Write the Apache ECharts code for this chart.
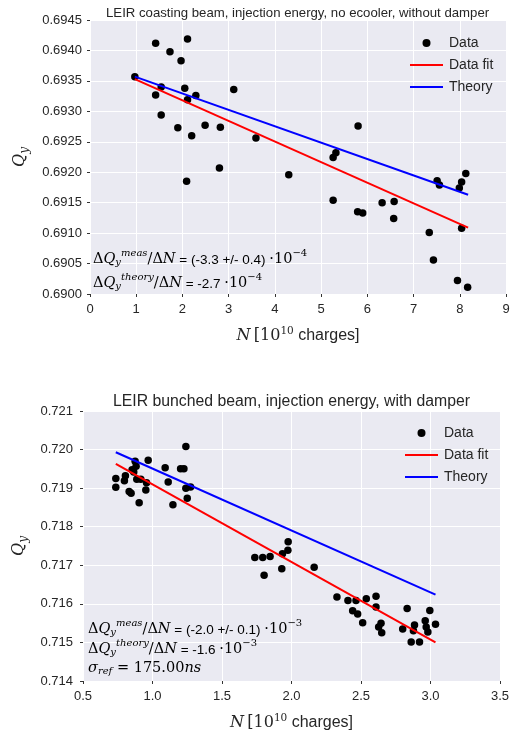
<!DOCTYPE html>
<html lang="en">
<head>
<meta charset="utf-8">
<script src="https://cdn.jsdelivr.net/npm/echarts@6/dist/echarts.min.js"></script>
<style>
  html, body { margin: 0; padding: 0; background: #fff; }
</style>
</head>
<body>
<div id="main" style="width:516px;height:734px"></div>
<script type="text/javascript">
// top panel: coasting beam
var coastN = [0.97, 1.42, 1.73, 1.97, 2.11, 1.54, 1.42, 2.05, 2.11, 2.29, 1.54, 1.90, 2.20, 2.49, 2.82, 3.11, 3.59,
  2.80, 4.30, 5.26, 5.32, 5.80, 8.13, 2.09, 5.26, 5.79, 5.90, 6.32, 6.58, 6.57, 7.51, 7.56, 7.99, 8.04, 7.34, 8.04,
  7.43, 7.95, 8.17];
var coastQ = [0.69357, 0.69412, 0.69398, 0.69383, 0.69419, 0.69340, 0.69327, 0.69338, 0.69319, 0.69326, 0.69294,
  0.69273, 0.69260, 0.69277, 0.69274, 0.69336, 0.69256, 0.69207, 0.69196, 0.69224, 0.69232, 0.69276, 0.69198,
  0.69185, 0.69154, 0.69135, 0.69133, 0.69150, 0.69152, 0.69124, 0.69186, 0.69179, 0.69174, 0.69184, 0.69101,
  0.69108, 0.69056, 0.69022, 0.69011];
var coastFitN = [0.97, 8.18];
var coastFitQ = [0.69353, 0.69109];
var coastTheoryN = [0.97, 8.18];
var coastTheoryQ = [0.69357, 0.69163];

// bottom panel: bunched beam
var bunchN = [0.736, 0.736, 0.798, 0.805, 0.832, 0.846, 0.853, 0.875, 0.882, 0.887, 0.904, 0.916, 0.952, 0.957,
  0.969, 1.091, 1.113, 1.147, 1.202, 1.226, 1.240, 1.240, 1.250, 1.274, 0.865,
  1.736, 1.793, 1.846, 1.803, 1.930, 1.935, 1.974, 1.976, 2.163, 2.327, 2.406, 2.464, 2.440, 2.476, 2.512, 2.538,
  2.608, 2.608, 2.627, 2.644, 2.649, 2.800, 2.832, 2.861, 2.877, 2.885, 2.921, 2.962, 2.969, 2.981, 2.995, 3.036];
var bunchQ = [0.71925, 0.71902, 0.71919, 0.71932, 0.71891, 0.71887, 0.71948, 0.71970, 0.71957, 0.71923, 0.71862,
  0.71923, 0.71895, 0.71914, 0.71972, 0.71953, 0.71916, 0.71857, 0.71950, 0.71950, 0.72008, 0.71900, 0.71874,
  0.71903, 0.71942,
  0.71720, 0.71720, 0.71723, 0.71674, 0.71691, 0.71730, 0.71739, 0.71761, 0.71695, 0.71618, 0.71609, 0.71609,
  0.71582, 0.71574, 0.71551, 0.71613, 0.71620, 0.71592, 0.71540, 0.71550, 0.71525, 0.71535, 0.71588, 0.71501,
  0.71530, 0.71545, 0.71501, 0.71556, 0.71540, 0.71527, 0.71583, 0.71547];
var bunchFitN = [0.736, 3.036];
var bunchFitQ = [0.71963, 0.71500];
var bunchTheoryN = [0.736, 3.036];
var bunchTheoryQ = [0.71993, 0.71624];

var legendNames = ['Data', 'Data fit', 'Theory'];

function pairs(xs, ys) {
  var out = [];
  for (var i = 0; i < xs.length; i++) out.push([xs[i], ys[i]]);
  return out;
}

var sans = 'Liberation Sans, Arial, sans-serif';
var serif = 'DejaVu Serif, serif';
var txt = '#262626';

var mathRich = {
  m: { fontFamily: serif, fontStyle: 'italic', fontSize: 14.5, color: txt, lineHeight: 19, verticalAlign: 'bottom' },
  d: { fontFamily: serif, fontSize: 14.5, color: txt, lineHeight: 19, verticalAlign: 'bottom' },
  sub: { fontFamily: serif, fontStyle: 'italic', fontSize: 10, color: txt, lineHeight: 19, verticalAlign: 'bottom' },
  sup: { fontFamily: serif, fontStyle: 'italic', fontSize: 10, color: txt, lineHeight: 19, verticalAlign: 'top' },
  supn: { fontFamily: serif, fontSize: 10, color: txt, lineHeight: 19, verticalAlign: 'top' },
  s: { fontFamily: sans, fontSize: 13.5, color: txt, lineHeight: 19, verticalAlign: 'bottom' }
};

var axisNameRich = {
  m: { fontFamily: serif, fontStyle: 'italic', fontSize: 16, color: txt },
  d: { fontFamily: serif, fontSize: 16, color: txt },
  sup: { fontFamily: serif, fontSize: 10.5, color: txt, verticalAlign: 'top', padding: [0, 0, 8, 0] },
  sub: { fontFamily: serif, fontStyle: 'italic', fontSize: 12, color: txt, padding: [10, 0, 0, 0] },
  s: { fontFamily: sans, fontSize: 16, color: txt }
};

function xAxisCfg(idx, min, max, interval, digits) {
  return {
    type: 'value', gridIndex: idx, min: min, max: max, interval: interval,
    axisLine: { show: false },
    axisTick: { show: true, length: 3, lineStyle: { color: '#333' } },
    axisLabel: { color: txt, fontFamily: sans, fontSize: 13, margin: 9,
      formatter: function (v) { return v.toFixed(digits); } },
    splitLine: { show: true, lineStyle: { color: '#fff', width: 1 } },
    name: '{m|N} {d|[10}{sup|10}{s| charges]}',
    nameLocation: 'middle', nameGap: 32,
    nameTextStyle: { rich: axisNameRich }
  };
}
function yAxisCfg(idx, min, max, interval, digits, gap, margin) {
  return {
    type: 'value', gridIndex: idx, min: min, max: max, interval: interval,
    axisLine: { show: false },
    axisTick: { show: true, length: 3, lineStyle: { color: '#333' } },
    axisLabel: { color: txt, fontFamily: sans, fontSize: 13, margin: margin,
      formatter: function (v) { return v.toFixed(digits); } },
    splitLine: { show: true, lineStyle: { color: '#fff', width: 1 } },
    name: '{m|Q}{sub|y}',
    nameLocation: 'middle', nameGap: gap,
    nameTextStyle: { rich: axisNameRich }
  };
}

function legendCfg(left, top) {
  return {
    orient: 'vertical', left: left, top: top,
    itemWidth: 33, itemHeight: 8, itemGap: 8,
    textStyle: { fontFamily: sans, fontSize: 14, color: txt, padding: [0, 0, 0, 1] },
    data: [
      { name: legendNames[0], icon: 'circle' },
      { name: legendNames[1], itemStyle: { opacity: 0 } },
      { name: legendNames[2], itemStyle: { opacity: 0 } }
    ]
  };
}

var myChart = echarts.init(document.getElementById('main'), null, { renderer: 'canvas' });

var option = {
  animation: false,
  backgroundColor: '#fff',
  title: [
    { text: 'LEIR coasting beam, injection energy, no ecooler, without damper', left: 101, top: 2,
      textStyle: { fontFamily: sans, fontSize: 13.2, fontWeight: 'normal', color: txt } },
    { text: 'LEIR bunched beam, injection energy, with damper', left: 108, top: 389,
      textStyle: { fontFamily: sans, fontSize: 15.8, fontWeight: 'normal', color: txt } }
  ],
  grid: [
    { left: 90, top: 20, width: 416, height: 274, show: true, backgroundColor: '#EAEAF2', borderWidth: 0 },
    { left: 83, top: 411, width: 417, height: 270, show: true, backgroundColor: '#EAEAF2', borderWidth: 0 }
  ],
  xAxis: [
    xAxisCfg(0, 0, 9, 1, 0),
    xAxisCfg(1, 0.5, 3.5, 0.5, 1)
  ],
  yAxis: [
    yAxisCfg(0, 0.6900, 0.6945, 0.0005, 4, 52, 8),
    yAxisCfg(1, 0.714, 0.721, 0.001, 3, 47, 10)
  ],
  legend: [legendCfg(404, 31), legendCfg(399, 421)],
  series: [
    { name: 'Data', type: 'scatter', xAxisIndex: 0, yAxisIndex: 0, symbolSize: 7.5,
      itemStyle: { color: '#000', opacity: 1 }, data: pairs(coastN, coastQ), z: 3 },
    { name: 'Data fit', type: 'line', xAxisIndex: 0, yAxisIndex: 0, symbol: 'none',
      lineStyle: { color: '#ff0000', width: 2 }, itemStyle: { color: '#ff0000' },
      data: pairs(coastFitN, coastFitQ), z: 4 },
    { name: 'Theory', type: 'line', xAxisIndex: 0, yAxisIndex: 0, symbol: 'none',
      lineStyle: { color: '#0000ff', width: 2 }, itemStyle: { color: '#0000ff' },
      data: pairs(coastTheoryN, coastTheoryQ), z: 4 },
    { name: 'Data', type: 'scatter', xAxisIndex: 1, yAxisIndex: 1, symbolSize: 7.5,
      itemStyle: { color: '#000', opacity: 1 }, data: pairs(bunchN, bunchQ), z: 3 },
    { name: 'Data fit', type: 'line', xAxisIndex: 1, yAxisIndex: 1, symbol: 'none',
      lineStyle: { color: '#ff0000', width: 2 }, itemStyle: { color: '#ff0000' },
      data: pairs(bunchFitN, bunchFitQ), z: 4 },
    { name: 'Theory', type: 'line', xAxisIndex: 1, yAxisIndex: 1, symbol: 'none',
      lineStyle: { color: '#0000ff', width: 2 }, itemStyle: { color: '#0000ff' },
      data: pairs(bunchTheoryN, bunchTheoryQ), z: 4 }
  ],
  graphic: [
    { type: 'text', left: 93, top: 248, z: 10, style: {
      text: '{d|Δ}{m|Q}{sub|y}{sup|meas}{d|/Δ}{m|N}{s| = (-3.3 +/- 0.4) }{d|·10}{supn|−4}', rich: mathRich } },
    { type: 'text', left: 93, top: 272, z: 10, style: {
      text: '{d|Δ}{m|Q}{sub|y}{sup|theory}{d|/Δ}{m|N}{s| = -2.7 }{d|·10}{supn|−4}', rich: mathRich } },
    { type: 'text', left: 88, top: 618, z: 10, style: {
      text: '{d|Δ}{m|Q}{sub|y}{sup|meas}{d|/Δ}{m|N}{s| = (-2.0 +/- 0.1) }{d|·10}{supn|−3}', rich: mathRich } },
    { type: 'text', left: 88, top: 638, z: 10, style: {
      text: '{d|Δ}{m|Q}{sub|y}{sup|theory}{d|/Δ}{m|N}{s| = -1.6 }{d|·10}{supn|−3}', rich: mathRich } },
    { type: 'text', left: 88, top: 661, z: 10, style: {
      text: '{m|σ}{sub|ref}{d| = 175.00}{m|ns}', rich: mathRich } }
  ]
};

myChart.setOption(option);
</script>
</body>
</html>
